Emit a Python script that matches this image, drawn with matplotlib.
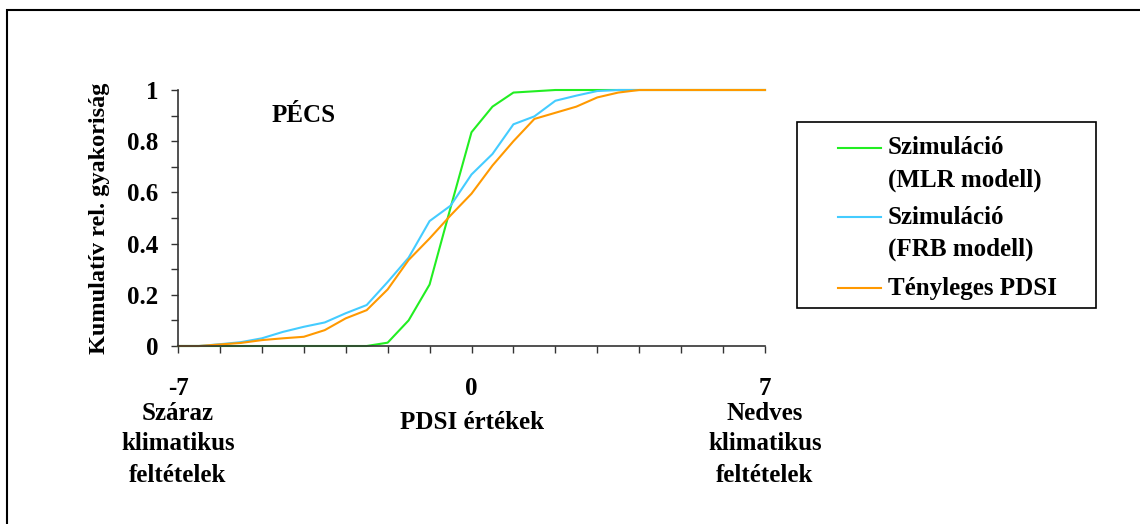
import matplotlib.pyplot as plt
from matplotlib.lines import Line2D
from matplotlib.patches import Rectangle

# PDSI osztályok (-7 ... 7, fél egységenként)
pdsi = [-7, -6.5, -6, -5.5, -5, -4.5, -4, -3.5, -3, -2.5, -2, -1.5, -1, -0.5,
        0, 0.5, 1, 1.5, 2, 2.5, 3, 3.5, 4, 4.5, 5, 5.5, 6, 6.5, 7]

# kumulatív relatív gyakoriságok
mlr = [0, 0, 0, 0, 0, 0, 0, 0, 0, 0, 0.013, 0.10, 0.24, 0.54,
       0.835, 0.935, 0.99, 0.995, 1, 1, 1, 1, 1, 1, 1, 1, 1, 1, 1]
frb = [0, 0, 0.007, 0.015, 0.03, 0.055, 0.075, 0.092, 0.128, 0.16, 0.25, 0.345, 0.488, 0.548,
       0.67, 0.75, 0.866, 0.897, 0.958, 0.978, 0.996, 1, 1, 1, 1, 1, 1, 1, 1]
tenyleges = [0, 0, 0.006, 0.012, 0.023, 0.03, 0.036, 0.062, 0.108, 0.14, 0.221, 0.336, 0.42, 0.51,
             0.595, 0.705, 0.80, 0.887, 0.911, 0.935, 0.971, 0.99, 1, 1, 1, 1, 1, 1, 1]

labels = ['Szimuláció\n(MLR modell)', 'Szimuláció\n(FRB modell)', 'Tényleges PDSI']
colors = ['#22EE22', '#44CCFF', '#FF9900']

plt.rcParams['font.family'] = ['Liberation Serif', 'DejaVu Serif']
plt.rcParams['font.weight'] = 'bold'
plt.rcParams['axes.labelweight'] = 'bold'
plt.rcParams['font.size'] = 18

fig = plt.figure(figsize=(11.4, 5.24), dpi=100)
ax = fig.add_axes([178 / 1140, 1 - 346 / 524, 587 / 1140, 256 / 524])

for ys, c in zip([mlr, frb, tenyleges], colors):
    ax.plot(pdsi, ys, color=c, lw=1.5, clip_on=False)

ax.set_xlim(-7, 7)
ax.set_ylim(0, 1)
for s in ['top', 'right']:
    ax.spines[s].set_visible(False)
for s in ['left', 'bottom']:
    ax.spines[s].set_color('#333333')
    ax.spines[s].set_linewidth(1.2)

ax.set_xticks([-7, 0, 7])
ax.set_xticklabels(['-7', '0', '7'])
ax.set_xticks(range(-7, 8), minor=True)
ax.set_yticks([0, 0.2, 0.4, 0.6, 0.8, 1])
ax.set_yticklabels(['0', '0.2', '0.4', '0.6', '0.8', '1'])
ax.set_yticks([i / 10 for i in range(11)], minor=True)
ax.tick_params(which='both', direction='out', length=5, width=1, color='#333333')
ax.tick_params(axis='x', pad=17)
ax.tick_params(axis='y', pad=9)

ax.set_ylabel('Kumulatív rel. gyakoriság', fontweight='bold', fontsize=17.5)
ax.yaxis.set_label_coords(-0.115, 0.5)

ax.text(-4, 0.9, 'PÉCS', ha='center', va='center')

# magyarázó feliratok az x tengely alatt
tr = ax.get_xaxis_transform()
ax.text(-7, -0.262, 'Száraz', transform=tr, ha='center', va='center')
ax.text(-7, -0.379, 'klimatikus', transform=tr, ha='center', va='center')
ax.text(-7, -0.504, 'feltételek', transform=tr, ha='center', va='center')
ax.text(0, -0.297, 'PDSI értékek', transform=tr, ha='center', va='center')
ax.text(7, -0.262, 'Nedves', transform=tr, ha='center', va='center')
ax.text(7, -0.379, 'klimatikus', transform=tr, ha='center', va='center')
ax.text(7, -0.504, 'feltételek', transform=tr, ha='center', va='center')

# jelmagyarázat keret
W, H = 1140, 524
fig.add_artist(Rectangle((797 / W, 1 - 308 / H), 299 / W, 186 / H, transform=fig.transFigure,
                         fill=False, edgecolor='black', lw=1.2))
handle_y = [148, 217, 288]
for lab, c, hy in zip(labels, colors, handle_y):
    fig.add_artist(Line2D([838 / W, 881 / W], [1 - hy / H] * 2, transform=fig.transFigure,
                          color=c, lw=1.5))
    for k, line in enumerate(lab.split('\n')):
        fig.text(888 / W, 1 - (hy + 32 * k) / H, line, ha='left', va='center')

# külső keret
fig.add_artist(Rectangle((7 / W, -0.1), 1.2, 1.1 - 10 / H, transform=fig.transFigure,
                         fill=False, edgecolor='black', lw=1.5))

fig.savefig('out.png', dpi=100)
